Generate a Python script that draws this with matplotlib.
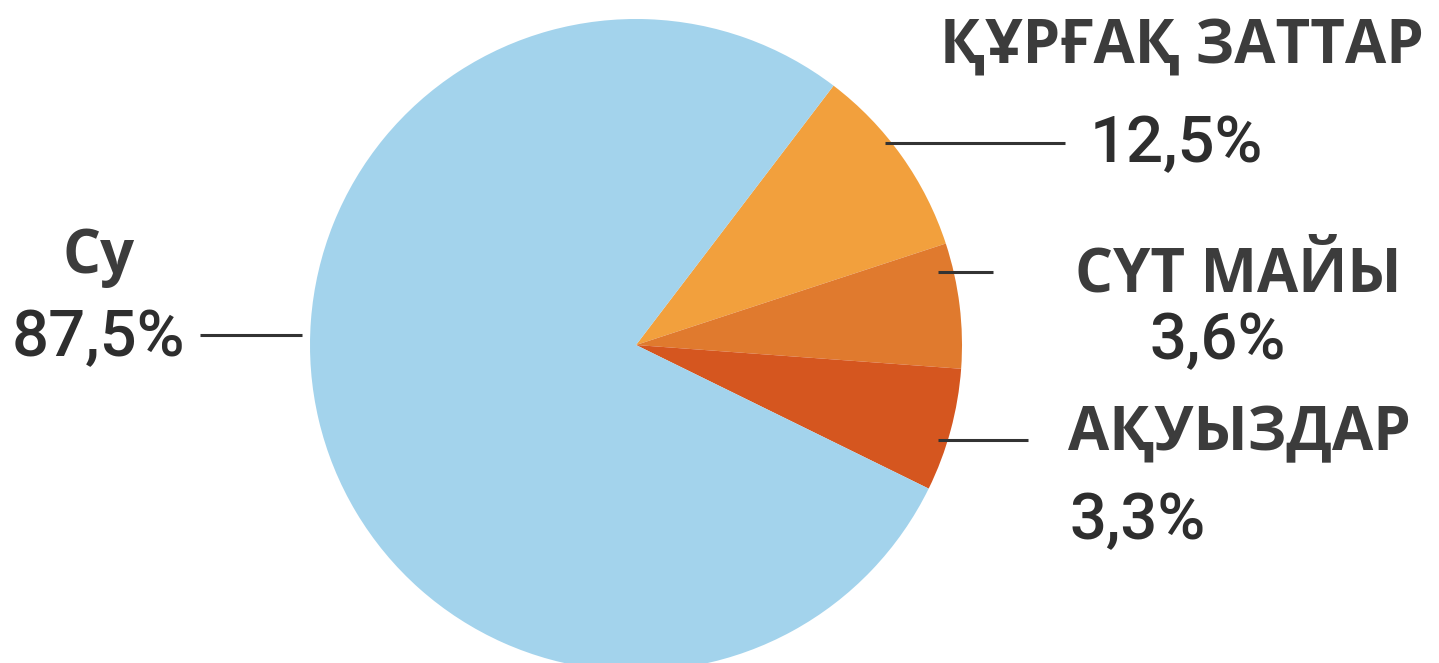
import matplotlib.pyplot as plt

# Үлестер (сурет бойынша бұрыштардан бағаланған)
slice_names = ['ҚҰРҒАҚ ЗАТТАР', 'СҮТ МАЙЫ', 'АҚУЫЗДАР', 'Су']
slice_sizes = [9.6, 6.2, 6.1, 78.1]
slice_colors = ['#F2A03D', '#E07A2E', '#D5561F', '#A3D3EC']
pct_labels = ['12,5%', '3,6%', '3,3%', '87,5%']

W, H = 1439, 663
fig = plt.figure(figsize=(W / 100, H / 100), dpi=100)
ax = fig.add_axes([0, 0, 1, 1])

def Y(y):
    # пиксельдік y -> осьтің y координатасы
    return H - y

ax.pie(slice_sizes, colors=slice_colors, startangle=52.7, counterclock=False,
       center=(636, Y(345)), radius=326, frame=True,
       wedgeprops=dict(linewidth=0))
ax.set_xlim(0, W)
ax.set_ylim(0, H)
ax.set_aspect('equal')
ax.axis('off')

name_font = dict(family=['Open Sans', 'DejaVu Sans'], weight='bold', color='#3c3c3c', fontsize=43)
pct_font = dict(family=['Roboto', 'DejaVu Sans'], weight='medium', color='#2e2e2e', fontsize=47)

# жазулар
ax.text(940, Y(64), slice_names[0], ha='left', va='baseline', **name_font)
ax.text(1090, Y(162), pct_labels[0], ha='left', va='baseline', **pct_font)
ax.text(1075, Y(292), slice_names[1], ha='left', va='baseline', **name_font)
ax.text(1150, Y(359), pct_labels[1], ha='left', va='baseline', **pct_font)
ax.text(1068, Y(450), slice_names[2], ha='left', va='baseline', **name_font)
ax.text(1070, Y(539), pct_labels[2], ha='left', va='baseline', **pct_font)
ax.text(62, Y(273), slice_names[3], ha='left', va='baseline', **name_font)
ax.text(185, Y(356), pct_labels[3], ha='right', va='baseline', **pct_font)

# сілтеме сызықтары
line_kw = dict(color='#333333', lw=2.2, solid_capstyle='butt')
ax.plot([885, 1065], [Y(143), Y(143)], **line_kw)
ax.plot([938, 993], [Y(272), Y(272)], **line_kw)
ax.plot([938, 1028], [Y(440), Y(440)], **line_kw)
ax.plot([200, 302], [Y(335), Y(335)], **line_kw)

fig.savefig('out.png', dpi=100)
